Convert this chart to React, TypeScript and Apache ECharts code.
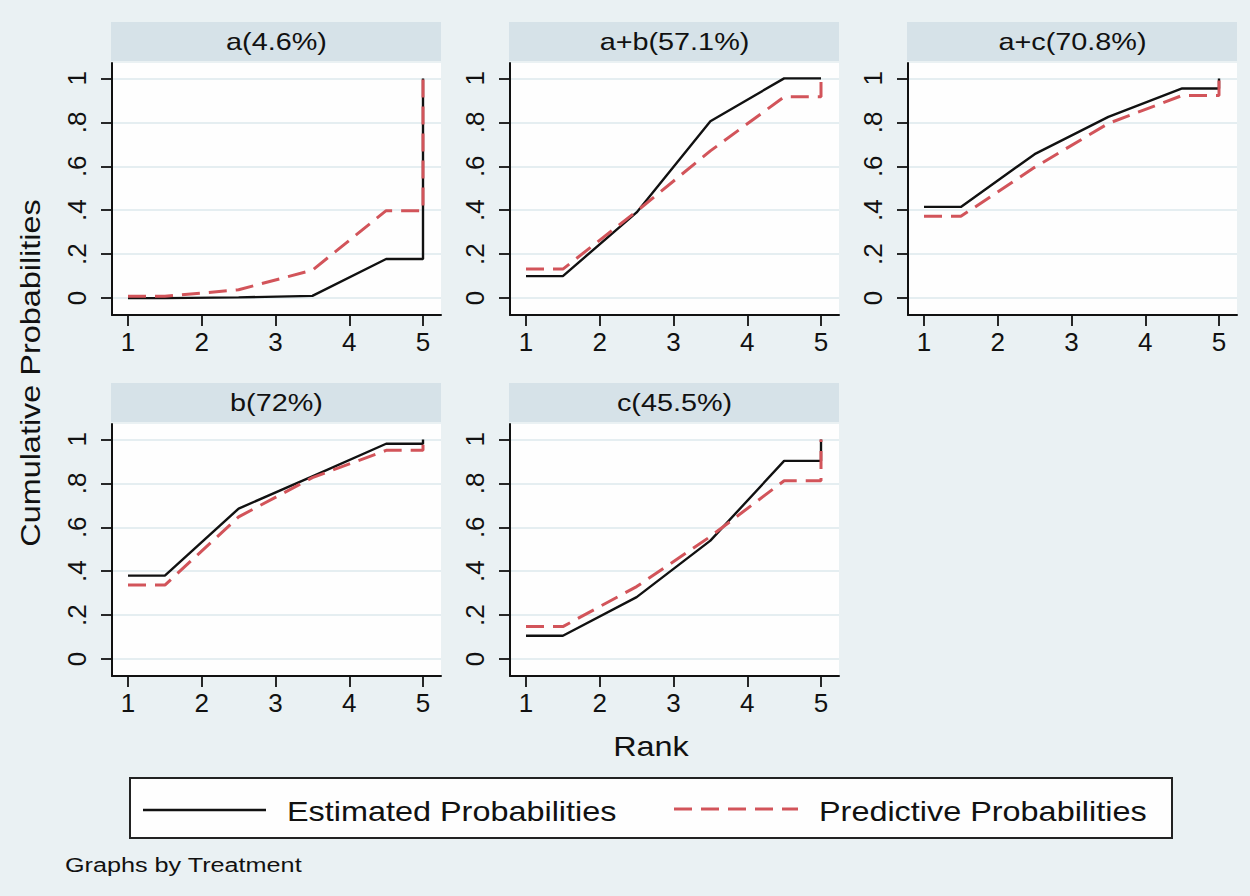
import React, { useEffect, useRef } from "react";
import * as echarts from "echarts";

// ---- data ----
const RANK_X = [1, 1.5, 2.5, 3.5, 4.5, 5, 5];
const PANEL_TITLES = ["a(4.6%)", "a+b(57.1%)", "a+c(70.8%)", "b(72%)", "c(45.5%)"];
const X_TICKS = [1, 2, 3, 4, 5];
const Y_TICKS = [0, 0.2, 0.4, 0.6, 0.8, 1];
const Y_TICK_LABELS = ["0", ".2", ".4", ".6", ".8", "1"];
const SERIES_NAMES = ["Estimated Probabilities", "Predictive Probabilities"];

const EST_A = [0, 0, 0.003, 0.01, 0.178, 0.178, 1];
const PRED_A = [0.008, 0.008, 0.038, 0.127, 0.398, 0.398, 1];
const EST_AB = [0.1, 0.1, 0.39, 0.805, 1, 1, 1];
const PRED_AB = [0.132, 0.132, 0.395, 0.67, 0.916, 0.916, 1];
const EST_AC = [0.415, 0.415, 0.655, 0.825, 0.954, 0.954, 1];
const PRED_AC = [0.372, 0.372, 0.595, 0.795, 0.922, 0.922, 1];
const EST_B = [0.38, 0.38, 0.685, 0.832, 0.98, 0.98, 1];
const PRED_B = [0.337, 0.337, 0.647, 0.826, 0.95, 0.95, 1];
const EST_C = [0.106, 0.106, 0.282, 0.539, 0.902, 0.902, 1];
const PRED_C = [0.148, 0.148, 0.33, 0.558, 0.812, 0.812, 1];

const EST = [EST_A, EST_AB, EST_AC, EST_B, EST_C];
const PRED = [PRED_A, PRED_AB, PRED_AC, PRED_B, PRED_C];

// ---- style / layout ----
const FONT = "'Liberation Sans', Arial, Helvetica, sans-serif";
const BG = "#eaf1f3";
const STRIP = "#d6e2e8";
const GRIDLINE = "#dde8ed";
const RED = "#d2545a";
const PANEL_POS = [
  [112, 63],
  [510, 63],
  [908, 63],
  [112, 424],
  [510, 424],
];
const PW = 329;
const PH = 252;
const STRIP_H = 39;

export default function App() {
  const ref = useRef<HTMLDivElement>(null);
  useEffect(() => {
    if (!ref.current) return;
    const chart = echarts.init(ref.current, undefined, { renderer: "svg" });

    const grids: any[] = [];
    const xAxes: any[] = [];
    const yAxes: any[] = [];
    const series: any[] = [];
    const graphics: any[] = [];

    PANEL_POS.forEach(([l, t], i) => {
      grids.push({
        left: l,
        top: t,
        width: PW,
        height: PH,
        show: true,
        backgroundColor: "#fefefe",
        borderWidth: 0,
        containLabel: false,
      });
      xAxes.push({
        gridIndex: i,
        type: "value",
        min: 0.783,
        max: 5.244,
        axisLine: { show: true, onZero: false, lineStyle: { color: "#111", width: 2 } },
        axisTick: { show: true, length: 11, inside: false, customValues: X_TICKS, lineStyle: { color: "#111", width: 1.8 } },
        axisLabel: {
          customValues: X_TICKS,
          margin: 14,
          fontSize: 26,
          fontFamily: FONT,
          color: "#111",
          formatter: (v: number) => String(v),
        },
        splitLine: { show: false },
      });
      yAxes.push({
        gridIndex: i,
        type: "value",
        min: -0.077,
        max: 1.07,
        axisLine: { show: true, onZero: false, lineStyle: { color: "#111", width: 2 } },
        axisTick: { show: true, length: 11, inside: false, customValues: Y_TICKS, lineStyle: { color: "#111", width: 1.8 } },
        axisLabel: {
          customValues: Y_TICKS,
          rotate: 90,
          margin: 22,
          fontSize: 26,
          fontFamily: FONT,
          color: "#111",
          formatter: (v: number) => {
            const idx = Y_TICKS.findIndex((y) => Math.abs(y - v) < 1e-6);
            return idx >= 0 ? Y_TICK_LABELS[idx] : "";
          },
        },
        splitLine: { show: true, lineStyle: { color: GRIDLINE, width: 1.6 } },
      });
      series.push({
        name: SERIES_NAMES[0],
        type: "line",
        xAxisIndex: i,
        yAxisIndex: i,
        symbol: "none",
        data: RANK_X.map((x, k) => [x, EST[i][k]]),
        lineStyle: { color: "#111", width: 2.4 },
        z: 3,
      });
      series.push({
        name: SERIES_NAMES[1],
        type: "line",
        xAxisIndex: i,
        yAxisIndex: i,
        symbol: "none",
        data: RANK_X.map((x, k) => [x, PRED[i][k]]),
        lineStyle: { color: RED, width: 3, type: [18, 9] },
        z: 4,
      });
      graphics.push({
        type: "rect",
        shape: { x: l - 1, y: t - STRIP_H - 2, width: PW + 1, height: STRIP_H },
        style: { fill: STRIP },
        silent: true,
      });
      graphics.push({
        type: "text",
        x: l + PW / 2,
        y: t - STRIP_H / 2 - 2,
        scaleX: 1.2,
        style: {
          text: PANEL_TITLES[i],
          fontSize: 24,
          fontFamily: FONT,
          fill: "#111",
          align: "center",
          verticalAlign: "middle",
          textAlign: "center",
          textVerticalAlign: "middle",
        },
      });
    });

    // axis titles
    graphics.push({
      type: "text",
      x: 30,
      y: 373,
      rotation: Math.PI / 2,
      scaleX: 1.2,
      style: {
        text: "Cumulative Probabilities",
        fontSize: 27,
        fontFamily: FONT,
        fill: "#111",
        align: "center",
        verticalAlign: "middle",
        textAlign: "center",
        textVerticalAlign: "middle",
      },
    });
    graphics.push({
      type: "text",
      x: 651,
      y: 746,
      scaleX: 1.2,
      style: {
        text: "Rank",
        fontSize: 27,
        fontFamily: FONT,
        fill: "#111",
        align: "center",
        verticalAlign: "middle",
        textAlign: "center",
        textVerticalAlign: "middle",
      },
    });

    // legend
    graphics.push({
      type: "rect",
      shape: { x: 130, y: 778, width: 1042, height: 60 },
      style: { fill: "#fefefe", stroke: "#222", lineWidth: 2 },
      silent: true,
    });
    graphics.push({
      type: "line",
      shape: { x1: 143, y1: 810, x2: 266, y2: 810 },
      style: { stroke: "#111", lineWidth: 2.6 },
    });
    graphics.push({
      type: "line",
      shape: { x1: 674, y1: 809, x2: 798, y2: 809 },
      style: { stroke: RED, lineWidth: 3, lineDash: [18, 9] },
    });
    [
      [SERIES_NAMES[0], 287],
      [SERIES_NAMES[1], 819],
    ].forEach(([txt, x]) => {
      graphics.push({
        type: "text",
        x: x as number,
        y: 811,
        scaleX: 1.2,
        style: {
          text: txt as string,
          fontSize: 27,
          fontFamily: FONT,
          fill: "#111",
          align: "left",
          verticalAlign: "middle",
          textAlign: "left",
          textVerticalAlign: "middle",
        },
      });
    });
    graphics.push({
      type: "text",
      x: 65,
      y: 865,
      scaleX: 1.2,
      style: {
        text: "Graphs by Treatment",
        fontSize: 21,
        fontFamily: FONT,
        fill: "#111",
        align: "left",
        verticalAlign: "middle",
        textAlign: "left",
        textVerticalAlign: "middle",
      },
    });

    chart.setOption({
      animation: false,
      backgroundColor: BG,
      grid: grids,
      xAxis: xAxes,
      yAxis: yAxes,
      series,
      graphic: { elements: graphics },
    });
    return () => chart.dispose();
  }, []);

  return (
    <div
      ref={ref}
      style={{ position: "fixed", left: 0, top: 0, width: 1250, height: 896 }}
    />
  );
}
